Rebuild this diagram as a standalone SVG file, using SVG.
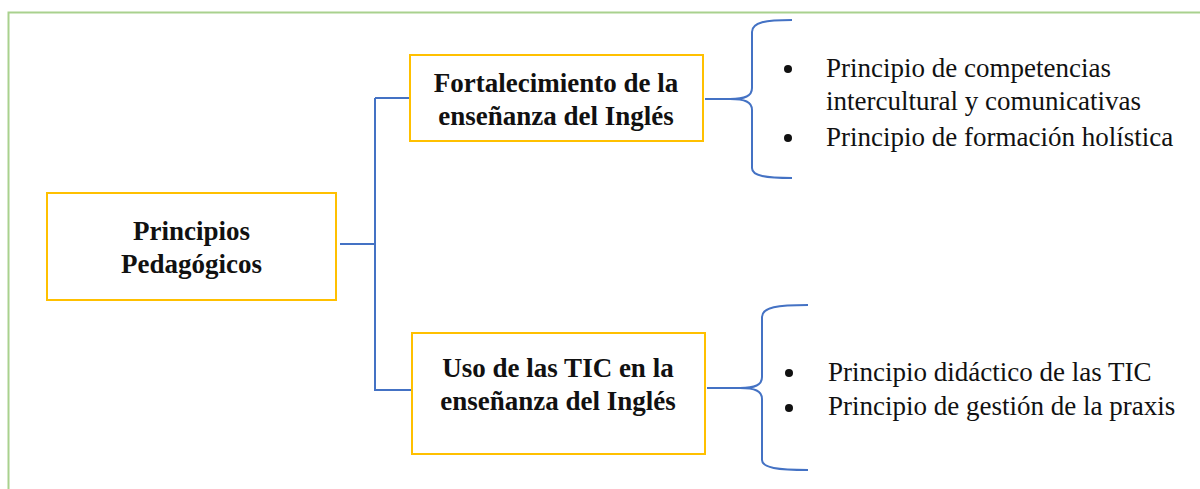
<svg xmlns="http://www.w3.org/2000/svg" width="1200" height="489" viewBox="0 0 1200 489">
<style>
.box{fill:#fff;stroke:#FFC000;stroke-width:2}
.ln{fill:none;stroke:#4472C4;stroke-width:2}
.dot{fill:#111}
</style>
<rect width="1200" height="489" fill="#fff"/>
<path d="M8.5,489 V12.5 H1200" fill="none" stroke="#A9D18E" stroke-width="2"/>
<g id="connectors">
<path class="ln" d="M340,244 H375 M375,98 V391 M375,98 H410 M375,390 H412"/>
<path class="ln" d="M705,99 H730"/>
<path class="ln" d="M792,20 C766,20 752,22 752,32 L752,88 C752,96 745,99 730,99 C745,99 752,102 752,110 L752,168 C752,176 766,178 792,178"/>
<path class="ln" d="M707,388 H740"/>
<path class="ln" d="M808,305 C778,305 762,307 762,317 L762,377 C762,385 755,388 740,388 C755,388 762,391 762,399 L762,460 C762,468 778,470 808,470"/>
</g>
<g id="root">
<rect class="box" x="47" y="193" width="289" height="107"/>
<g font-family="Liberation Serif" font-size="27" font-weight="bold" fill="#111" text-anchor="middle">
<text x="191.5" y="240">Principios</text>
<text x="191.5" y="273">Pedagógicos</text>
</g>
</g>
<g id="node1">
<rect class="box" x="410" y="55" width="293" height="86"/>
<g font-family="Liberation Serif" font-size="27" font-weight="bold" fill="#111" text-anchor="middle">
<text x="556" y="92">Fortalecimiento de la</text>
<text x="556" y="125">enseñanza del Inglés</text>
</g>
</g>
<g id="node2">
<rect class="box" x="412" y="333" width="293" height="121"/>
<g font-family="Liberation Serif" font-size="27" font-weight="bold" fill="#111" text-anchor="middle">
<text x="558" y="377">Uso de las TIC en la</text>
<text x="558" y="410">enseñanza del Inglés</text>
</g>
</g>
<g id="list1">
<circle class="dot" cx="788" cy="69" r="4"/>
<circle class="dot" cx="788" cy="138" r="4"/>
<g font-family="Liberation Serif" font-size="27" fill="#111">
<text x="826" y="77">Principio de competencias</text>
<text x="826" y="110">intercultural y comunicativas</text>
<text x="826" y="146">Principio de formación holística</text>
</g>
</g>
<g id="list2">
<circle class="dot" cx="789" cy="373" r="4"/>
<circle class="dot" cx="789" cy="408" r="4"/>
<g font-family="Liberation Serif" font-size="27" fill="#111">
<text x="828" y="381">Principio didáctico de las TIC</text>
<text x="828" y="415">Principio de gestión de la praxis</text>
</g>
</g>
</svg>
